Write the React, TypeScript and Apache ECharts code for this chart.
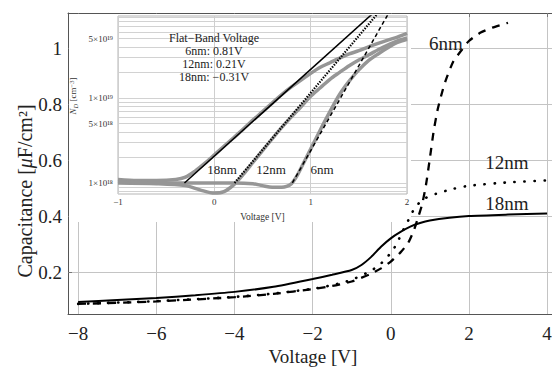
import React, { useEffect, useRef } from 'react';
import * as echarts from 'echarts';

// ---------- Main chart data (Voltage [V] vs Capacitance [µF/cm²]) ----------
const xTicks = [-8, -6, -4, -2, 0, 2, 4];
const yTicks = [0.2, 0.4, 0.6, 0.8, 1.0];

const v18 = [-8, -7, -6, -5, -4, -3, -2, -1.5, -1, -0.75, -0.5, -0.25, 0, 0.25, 0.5, 0.75, 1, 1.5, 2, 3, 4];
const cap18 = [0.093, 0.1, 0.107, 0.117, 0.129, 0.147, 0.175, 0.19, 0.207, 0.225, 0.254, 0.29, 0.32, 0.343, 0.362, 0.375, 0.384, 0.394, 0.4, 0.405, 0.409];

const v12 = [-8, -6, -4, -3, -2, -1.5, -1, -0.5, -0.25, 0, 0.15, 0.3, 0.45, 0.6, 0.75, 0.9, 1.15, 1.6, 2, 3, 4];
const cap12 = [0.086, 0.096, 0.111, 0.123, 0.14, 0.153, 0.172, 0.205, 0.23, 0.268, 0.3, 0.345, 0.385, 0.425, 0.45, 0.465, 0.479, 0.497, 0.508, 0.52, 0.527];

const v6 = [-8, -6, -4, -3, -2, -1.5, -1, -0.5, -0.25, 0, 0.25, 0.45, 0.6, 0.7, 0.8, 0.9, 1.0, 1.1, 1.2, 1.3, 1.4, 1.6, 1.8, 2.0, 2.3, 2.6, 3.0];
const cap6 = [0.086, 0.095, 0.11, 0.122, 0.139, 0.15, 0.166, 0.194, 0.213, 0.237, 0.27, 0.305, 0.352, 0.395, 0.44, 0.51, 0.605, 0.705, 0.78, 0.835, 0.882, 0.952, 0.99, 1.025, 1.055, 1.073, 1.09];

// ---------- Inset data (Voltage [V] vs N_D, in units of 1e18 cm^-3) ----------
const insetXTicks = [-1, 0, 1, 2];
const insetLabelNd = [1e18, 5e18, 1e19, 5e19];
const insetGridDecades = [17, 18, 19];
const insetGridMultipliers = [1, 2, 3, 4, 5, 6, 7, 8, 9];

const gV18 = [-1, -0.8, -0.6, -0.4, -0.3, -0.2, -0.1, 0, 0.1, 0.2, 0.3, 0.4, 0.5, 0.6, 0.7, 0.8, 0.9, 1.0, 1.1, 1.2, 1.3, 1.4, 1.5, 1.6, 1.7, 1.8, 1.9, 2.0];
const gN18 = [1.1, 1.07, 1.07, 1.1, 1.17, 1.38, 1.7, 2.14, 2.7, 3.4, 4.3, 5.5, 6.9, 8.7, 11, 13.5, 16.2, 19.5, 23, 26, 29.5, 33, 36, 40, 44, 48, 52, 57.5];

const gV12 = [-1, -0.6, -0.3, -0.15, 0, 0.1, 0.2, 0.3, 0.4, 0.5, 0.6, 0.7, 0.8, 0.9, 1.0, 1.1, 1.2, 1.3, 1.4, 1.5, 1.6, 1.7, 1.8, 1.9, 2.0];
const gN12 = [1.0, 0.98, 0.93, 0.83, 0.76, 0.79, 0.95, 1.26, 1.74, 2.4, 3.3, 4.5, 6.0, 7.9, 10.5, 13.2, 16.6, 20, 24, 28, 32, 37, 42, 47, 51];

const gV6 = [-1, -0.6, -0.2, 0, 0.2, 0.4, 0.5, 0.6, 0.7, 0.75, 0.8, 0.85, 0.9, 1.0, 1.1, 1.2, 1.3, 1.4, 1.5, 1.6, 1.7, 1.8, 1.9, 2.0];
const gN6 = [1.05, 1.0, 1.0, 1.0, 1.0, 0.98, 0.93, 0.89, 0.89, 0.91, 0.98, 1.17, 1.5, 2.5, 4.2, 6.9, 11, 15.8, 21.4, 27.5, 33, 39, 45, 49];

// Mott-Schottky fit lines: [V, N_D (1e18)]
const fitV18 = [-0.31, 1.65];
const fitN18 = [1, 100];
const fitV12 = [0.21, 1.7];
const fitN12 = [1, 100];
const fitV6 = [0.81, 1.81];
const fitN6 = [1, 100];

const flatBandLines = ['Flat\u2212Band Voltage', '6nm: 0.81V', '12nm: 0.21V', '18nm: \u22120.31V'];

const SERIF = 'Liberation Serif, DejaVu Serif, serif';

const MAIN_X = [-8.26, 4.28];
const MAIN_Y = [0.05, 1.125];
const INSET_X = [-1, 2];
const INSET_Y = [17.87, 19.965];

const zip = (xs: number[], ys: number[]) => xs.map((x, i) => [x, ys[i]]);
const zipLog = (xs: number[], ys: number[]) => xs.map((x, i) => [x, Math.log10(ys[i] * 1e18)]);
const minus = (v: number) => (v < 0 ? '\u2212' + Math.abs(v) : String(v));
const supDigits: Record<string, string> = { '0': '\u2070', '1': '\u00b9', '2': '\u00b2', '3': '\u00b3', '4': '\u2074', '5': '\u2075', '6': '\u2076', '7': '\u2077', '8': '\u2078', '9': '\u2079' };
const sup = (n: number) => String(n).split('').map((c) => supDigits[c] || c).join('');
const sci = (v: number) => {
  const e = Math.floor(v + 1e-6);
  const m = Math.round(Math.pow(10, v - e));
  return m + '\u00d710' + sup(e);
};

const txt = (x: number, y: number, text: string, size: number, align = 'center', extra: any = {}) => ({
  type: 'text', z: 10, x, y, silent: true,
  style: { text, align, verticalAlign: 'middle', fontSize: size, fontFamily: SERIF, fill: '#222', ...extra },
});

export default function App() {
  const ref = useRef<HTMLDivElement>(null);
  useEffect(() => {
    if (!ref.current) return;
    const chart = echarts.init(ref.current, undefined, { renderer: 'svg' });

    const insetGridVals: number[] = [];
    insetGridDecades.forEach((d) => insetGridMultipliers.forEach((m) => insetGridVals.push(Math.log10(m) + d)));
    const insetLabelVals = insetLabelNd.map((n) => Math.log10(n));

    const baseGraphic: any[] = [
      { type: 'rect', z: 1, silent: true, shape: { x: 69, y: 14, width: 342, height: 208 }, style: { fill: '#fff' } },
      {
        type: 'text', z: 10, x: 25, y: 191, rotation: Math.PI / 2,
        style: {
          text: '{a|Capacitance [}{i|\u03bc}{a|F/cm\u00b2]}', align: 'center', verticalAlign: 'middle',
          rich: {
            a: { fontSize: 20, fontFamily: SERIF, fill: '#222' },
            i: { fontSize: 20, fontFamily: SERIF, fontStyle: 'italic', fill: '#222' },
          },
        },
      },
      {
        type: 'text', z: 10, x: 73, y: 96, rotation: Math.PI / 2,
        style: {
          text: '{i|N}{s|D}{a| [cm}{p|\u22123}{a|]}', align: 'center', verticalAlign: 'middle',
          rich: {
            a: { fontSize: 9, fontFamily: SERIF, fill: '#333' },
            i: { fontSize: 9, fontFamily: SERIF, fontStyle: 'italic', fill: '#333' },
            s: { fontSize: 6.5, fontFamily: SERIF, fontStyle: 'italic', fill: '#333', verticalAlign: 'bottom', padding: [4, 0, 0, 0] },
            p: { fontSize: 6.5, fontFamily: SERIF, fill: '#333', verticalAlign: 'top', padding: [0, 0, 4, 0] },
          },
        },
      },
      ...flatBandLines.map((t, i) => txt(214, 38 + i * 13, t, 12)),
      txt(222, 169, '18nm', 13),
      txt(271, 169, '12nm', 13),
      txt(322, 169, '6nm', 13),
      txt(446, 43, '6nm', 19),
      txt(507, 162, '12nm', 19),
      txt(507, 203, '18nm', 19),
    ];

    const option: any = {
      animation: false,
      backgroundColor: '#fff',
      textStyle: { fontFamily: SERIF },
      grid: [
        { left: 68, top: 13, width: 490, height: 301, z: 0, outerBoundsMode: 'none', containLabel: false },
        { left: 118, top: 16, width: 289, height: 178, show: true, borderColor: '#b5b5b5', borderWidth: 1, backgroundColor: 'transparent', z: 2, outerBoundsMode: 'none', containLabel: false },
      ],
      xAxis: [
        {
          gridIndex: 0, type: 'value', min: MAIN_X[0], max: MAIN_X[1], position: 'bottom', z: 0,
          axisLine: { show: true, onZero: false, lineStyle: { color: '#555', width: 1 } },
          axisTick: { show: false, customValues: xTicks },
          axisLabel: { show: false, customValues: xTicks },
          splitLine: { show: true, lineStyle: { color: '#c4c4c4', width: 1 } },
          name: 'Voltage [V]', nameLocation: 'middle', nameGap: 33, nameMoveOverlap: false,
          nameTextStyle: { fontSize: 19, color: '#222', fontFamily: SERIF },
        },
        {
          gridIndex: 0, type: 'value', min: MAIN_X[0], max: MAIN_X[1], position: 'top', z: 0,
          axisLine: { show: true, onZero: false, lineStyle: { color: '#555', width: 1 } },
          axisTick: { show: true, inside: true, length: 4, customValues: xTicks, lineStyle: { color: '#777' } },
          axisLabel: { show: false },
          splitLine: { show: false },
        },
        {
          gridIndex: 1, type: 'value', min: INSET_X[0], max: INSET_X[1], interval: 1, z: 2,
          axisLine: { show: false, onZero: false },
          axisTick: { show: false },
          axisLabel: { show: false },
          splitLine: { show: true, lineStyle: { color: '#cfcfcf', width: 1 } },
          name: 'Voltage [V]', nameLocation: 'middle', nameGap: 18, nameMoveOverlap: false,
          nameTextStyle: { fontSize: 9.5, color: '#333', fontFamily: SERIF },
        },
      ],
      yAxis: [
        {
          gridIndex: 0, type: 'value', min: MAIN_Y[0], max: MAIN_Y[1], z: 0,
          axisLine: { show: true, onZero: false, lineStyle: { color: '#555', width: 1 } },
          axisTick: { show: true, inside: true, length: 4, customValues: yTicks, lineStyle: { color: '#777' } },
          axisLabel: { show: false, customValues: yTicks },
          splitLine: { show: true, lineStyle: { color: '#c4c4c4', width: 1 } },
        },
        {
          gridIndex: 1, type: 'value', min: INSET_Y[0], max: INSET_Y[1], z: 2,
          axisLine: { show: false, onZero: false },
          axisTick: { show: false, customValues: insetGridVals },
          axisLabel: { show: false, customValues: insetLabelVals },
          splitLine: { show: true, lineStyle: { color: '#d2d2d2', width: 1 } },
        },
      ],
      series: [
        // inset gray measured profiles
        { type: 'line', xAxisIndex: 2, yAxisIndex: 1, data: zipLog(gV18, gN18), showSymbol: false, smooth: 0.3, z: 3, lineStyle: { color: '#969696', width: 3.5 } },
        { type: 'line', xAxisIndex: 2, yAxisIndex: 1, data: zipLog(gV12, gN12), showSymbol: false, smooth: 0.3, z: 3, lineStyle: { color: '#969696', width: 3.5 } },
        { type: 'line', xAxisIndex: 2, yAxisIndex: 1, data: zipLog(gV6, gN6), showSymbol: false, smooth: 0.3, z: 3, lineStyle: { color: '#969696', width: 3.5 } },
        // inset fits
        { type: 'line', xAxisIndex: 2, yAxisIndex: 1, data: zipLog(fitV18, fitN18), showSymbol: false, z: 4, lineStyle: { color: '#000', width: 1.5 } },
        { type: 'line', xAxisIndex: 2, yAxisIndex: 1, data: zipLog(fitV12, fitN12), showSymbol: false, z: 4, lineStyle: { color: '#000', width: 2.2, type: [1.4, 1.4] } },
        { type: 'line', xAxisIndex: 2, yAxisIndex: 1, data: zipLog(fitV6, fitN6), showSymbol: false, z: 4, lineStyle: { color: '#000', width: 1.5, type: [4, 3] } },
        // main C-V curves
        { name: '18nm', type: 'line', xAxisIndex: 0, yAxisIndex: 0, data: zip(v18, cap18), showSymbol: false, smooth: 0.2, z: 5, lineStyle: { color: '#000', width: 2 } },
        { name: '12nm', type: 'line', xAxisIndex: 0, yAxisIndex: 0, data: zip(v12, cap12), showSymbol: false, smooth: 0.2, z: 5, lineStyle: { color: '#000', width: 2.6, type: [0.3, 9.7], cap: 'round' } },
        { name: '6nm', type: 'line', xAxisIndex: 0, yAxisIndex: 0, data: zip(v6, cap6), showSymbol: false, smooth: 0.2, z: 5, lineStyle: { color: '#000', width: 2.3, type: [8, 7] } },
      ],
      graphic: baseGraphic,
    };
    chart.setOption(option);

    // Tick labels placed through the axes' own scales (convertToPixel)
    const px = (xi: number, v: number) => chart.convertToPixel({ xAxisIndex: xi }, v) as number;
    const py = (yi: number, v: number) => chart.convertToPixel({ yAxisIndex: yi }, v) as number;
    const mainBottom = py(0, MAIN_Y[0]);
    const mainLeft = px(0, MAIN_X[0]);
    const insetBottom = py(1, INSET_Y[0]);
    const insetLeft = px(2, INSET_X[0]);
    const labels: any[] = [
      ...xTicks.map((v) => txt(px(0, v), mainBottom + 19, minus(v), 19)),
      ...yTicks.map((v) => txt(mainLeft - 6, py(0, v), Math.abs(v - 1) < 1e-9 ? '1' : v.toFixed(1), 19, 'right')),
      ...insetXTicks.map((v) => txt(px(2, v), insetBottom + 8, minus(v), 9, 'center', { fill: '#333' })),
      ...insetLabelVals.map((v) => txt(insetLeft - 5, py(1, v), sci(v), 9, 'right', { fill: '#333' })),
    ];
    chart.setOption({ graphic: [...baseGraphic, ...labels] }, { replaceMerge: ['graphic'] });

    return () => chart.dispose();
  }, []);
  return <div ref={ref} style={{ width: 552, height: 367, position: 'absolute', left: 0, top: 0 }} />;
}
